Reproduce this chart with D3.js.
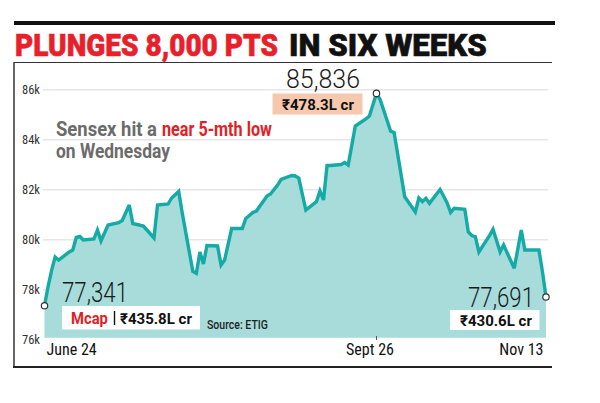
<!DOCTYPE html>
<html><head><meta charset="utf-8">
<script src="https://cdn.jsdelivr.net/npm/d3@7"></script>
<style>
html,body{margin:0;padding:0;background:#fff;}
svg{display:block;}
</style></head>
<body>
<svg id="c" width="600" height="403"></svg>
<script>
// ---- data ----
const dates = ["2024-06-24","2024-06-25","2024-06-26","2024-06-27","2024-06-28","2024-07-01","2024-07-02","2024-07-03","2024-07-04","2024-07-05",
"2024-07-08","2024-07-09","2024-07-10","2024-07-12","2024-07-15","2024-07-16","2024-07-18","2024-07-19","2024-07-22","2024-07-23",
"2024-07-25","2024-07-26","2024-07-29","2024-07-30","2024-07-31","2024-08-01","2024-08-02","2024-08-05","2024-08-06","2024-08-07",
"2024-08-08","2024-08-09","2024-08-12","2024-08-13","2024-08-14","2024-08-16","2024-08-19","2024-08-20","2024-08-21","2024-08-22",
"2024-08-23","2024-08-26","2024-08-27","2024-08-29","2024-08-30","2024-09-02","2024-09-03","2024-09-04","2024-09-06","2024-09-09",
"2024-09-10","2024-09-11","2024-09-12","2024-09-13","2024-09-16","2024-09-17","2024-09-18","2024-09-20","2024-09-23","2024-09-24",
"2024-09-26","2024-09-27","2024-09-30","2024-10-01","2024-10-04","2024-10-07","2024-10-08","2024-10-09","2024-10-10","2024-10-11",
"2024-10-14","2024-10-15","2024-10-16","2024-10-17","2024-10-18","2024-10-21","2024-10-22","2024-10-23","2024-10-24","2024-10-25",
"2024-10-28","2024-10-29","2024-10-30","2024-10-31","2024-11-01","2024-11-04","2024-11-05","2024-11-06","2024-11-07","2024-11-08",
"2024-11-11","2024-11-12","2024-11-13"];
const sensex = [77341,78100,78750,79292,79172,79492,79572,80072,80112,79972,
80012,80372,79932,80572,80664,80752,81372,80632,80532,80372,
80052,81372,81412,81652,81780,81912,81050,78720,78640,79492,
79012,79752,79732,78972,79172,80432,80432,80832,80950,81072,
81132,81732,81812,82170,82400,82552,82532,82450,81172,81504,
81932,81572,82952,82950,82992,83072,82972,84532,84812,84932,
85836,85600,84332,84264,81700,81092,81652,81504,81640,81440,
81992,81732,81452,81072,81240,81200,80292,80150,80104,79492,
80150,80400,79950,79492,79772,78840,79600,80372,79572,79572,
79572,78700,77691];
const yTicks = [76000,78000,80000,82000,84000,86000];
const xTickDates = ["2024-06-24","2024-09-26","2024-11-13"];
const xTickLabels = ["June 24","Sept 26","Nov 13"];
const titleRed = "PLUNGES 8,000 PTS";
const titleBlack = "IN SIX WEEKS";
const noteGray1 = "Sensex hit a";
const noteRed = "near 5-mth low";
const noteGray2 = "on Wednesday";
const highLabel = "85,836", highMcap = "₹478.3L cr";
const startLabel = "77,341", startMcap = "₹435.8L cr";
const endLabel = "77,691", endMcap = "₹430.6L cr";
const sourceText = "Source: ETIG";

const parse = d3.timeParse("%Y-%m-%d");
const data = dates.map((d,i)=>({date:parse(d), v:sensex[i]}));

const svg = d3.select("#c");
const x = d3.scaleTime().domain([parse(dates[0]), parse(dates[dates.length-1])]).range([44.5,546]);
const y = d3.scaleLinear().domain([76000,86000]).range([339.3,89.3]);

const narrow = "'Liberation Sans Narrow','Arial Narrow','Roboto Condensed',Roboto,sans-serif";
const ru = "Roboto,'Noto Sans','DejaVu Sans',sans-serif";

// text placed at (x0,y0) and squeezed horizontally to width w
function fitText(str, x0, y0, w, opts){
  const t = svg.append("text").attr("x",0).attr("y",0)
    .attr("font-family",opts.family||ru).attr("font-weight",opts.weight||400)
    .attr("font-size",opts.size).attr("fill",opts.fill||"#111").text(str);
  if(opts.stroke) t.attr("stroke",opts.fill).attr("stroke-width",opts.stroke);
  const nat = t.node().getComputedTextLength();
  t.attr("transform",`translate(${x0},${y0}) scale(${w/nat},1)`);
  return t;
}

// title bar
svg.append("rect").attr("x",14).attr("y",21).attr("width",541).attr("height",4).attr("fill","#111");
fitText(titleRed,15,56,263,{weight:900,size:32,fill:"#e8202a",stroke:0.6});
fitText(titleBlack,289,56,198,{weight:900,size:32,fill:"#111",stroke:0.6});

// frame
svg.append("line").attr("x1",14).attr("x2",552).attr("y1",62.5).attr("y2",62.5).attr("stroke","#333").attr("stroke-width",1);
svg.append("line").attr("x1",14).attr("x2",14).attr("y1",62).attr("y2",367).attr("stroke","#333").attr("stroke-width",1.5);
svg.append("line").attr("x1",13).attr("x2",552).attr("y1",367).attr("y2",367).attr("stroke","#222").attr("stroke-width",2);

// y axis + grid
const yAxis = d3.axisLeft(y).tickValues(yTicks).tickSize(-505).tickPadding(3)
  .tickFormat(d=>(d/1000)+"k");
const gy = svg.append("g").attr("transform","translate(43,0)").call(yAxis);
gy.select(".domain").remove();
gy.selectAll(".tick line").attr("stroke","#e6e6e6").attr("stroke-width",1.5)
  .attr("display",d=>d===76000?"none":null);
gy.selectAll(".tick text").attr("font-family",narrow).attr("font-size",12.5).attr("fill","#333");

// area + line
const area = d3.area().x(d=>x(d.date)).y0(y(76000)-1.5).y1(d=>y(d.v)).curve(d3.curveLinear);
const line = d3.line().x(d=>x(d.date)).y(d=>y(d.v)).curve(d3.curveLinear);
svg.append("path").datum(data).attr("d",area).attr("fill","#a7dcda");
svg.append("path").datum(data).attr("d",line).attr("fill","none").attr("stroke","#14aaa6")
  .attr("stroke-width",3.4).attr("stroke-linejoin","miter").attr("stroke-miterlimit",3);

// x axis
const xAxis = d3.axisBottom(x).tickValues(xTickDates.map(parse)).tickSize(0).tickPadding(0)
  .tickFormat((d,i)=>xTickLabels[i]);
const gx = svg.append("g").attr("transform","translate(0,355)").call(xAxis);
gx.select(".domain").remove();
gx.selectAll(".tick text").attr("font-family",narrow).attr("font-size",16).attr("fill","#111")
  .attr("dy",0).attr("y",0)
  .attr("text-anchor",(d,i)=>i===0?"start":(i===2?"end":"middle"))
  .attr("dx",(d,i)=>i===0?1.5:(i===2?-3:-7));
svg.append("line").attr("x1",x(parse(xTickDates[1]))).attr("x2",x(parse(xTickDates[1])))
  .attr("y1",336).attr("y2",340).attr("stroke","#555").attr("stroke-width",1);

// note
fitText(noteGray1,56,136,101,{weight:700,size:20,fill:"#6b6b6b"});
fitText(noteRed,162,136,110,{weight:700,size:20,fill:"#e41e26"});
fitText(noteGray2,56,158,114,{weight:700,size:20,fill:"#6b6b6b"});

// high label
fitText(highLabel,286,88,74,{weight:300,size:25,fill:"#1a1a1a"});
svg.append("rect").attr("x",272.5).attr("y",93.5).attr("width",90).attr("height",21).attr("fill","#f6c8ae");
fitText(highMcap,282,110,72,{weight:700,size:15,fill:"#111"});

// start label
fitText(startLabel,62,301.5,66,{weight:300,size:28,fill:"#1a1a1a"});
svg.append("rect").attr("x",62).attr("y",306).attr("width",138).attr("height",23.5).attr("fill","#fff");
fitText("Mcap",71,324,37,{weight:700,size:16,fill:"#e41e26"});
svg.append("line").attr("x1",114.5).attr("x2",114.5).attr("y1",311).attr("y2",325).attr("stroke","#111").attr("stroke-width",1.4);
fitText(startMcap,120,324,72,{weight:700,size:15,fill:"#111"});
fitText(sourceText,207,328.5,61,{weight:500,size:12.5,fill:"#222"});

// end label
fitText(endLabel,468,306.5,66,{weight:300,size:28,fill:"#1a1a1a"});
svg.append("rect").attr("x",450).attr("y",310).attr("width",89.5).attr("height",20).attr("fill","#fff");
fitText(endMcap,460,326,72,{weight:700,size:15,fill:"#111"});

// markers
const marks = [data[0], data.find(d=>d.v===d3.max(sensex)), data[data.length-1]];
svg.selectAll("circle.m").data(marks).join("circle").attr("class","m")
  .attr("cx",d=>x(d.date)).attr("cy",d=>y(d.v)).attr("r",3.2)
  .attr("fill","#fff").attr("stroke","#333").attr("stroke-width",1.2);
</script>
</body></html>
